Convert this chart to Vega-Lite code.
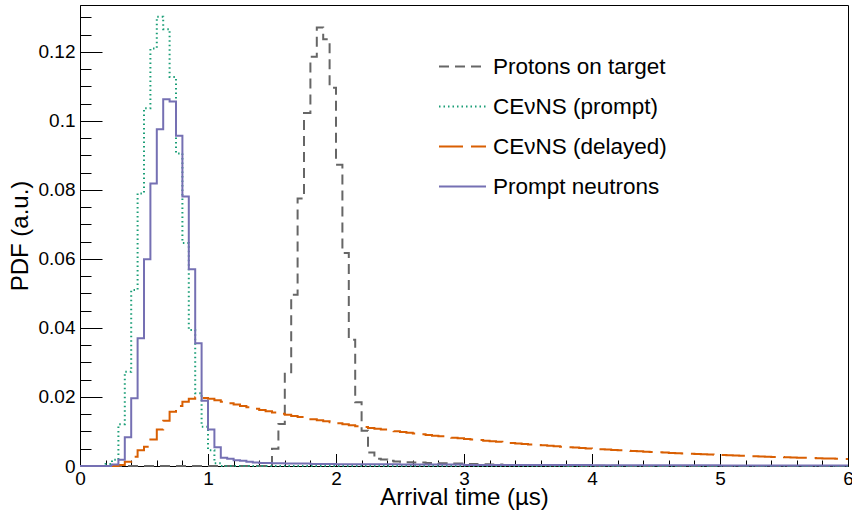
{
"$schema":"https://vega.github.io/schema/vega-lite/v6.json",
"width":768,"height":461,
"autosize":{"type":"none"},
"padding":{"left":80,"top":5,"right":4,"bottom":44},
"background":"white",
"config":{"view":{"stroke":"#000","strokeWidth":1},"font":"Liberation Sans"},
"data":{"values":[
{"s":"Protons on target","t":0,"v":0},
{"s":"Protons on target","t":1.5,"v":0.005},
{"s":"Protons on target","t":1.55,"v":0.0122},
{"s":"Protons on target","t":1.6,"v":0.0272},
{"s":"Protons on target","t":1.65,"v":0.0496},
{"s":"Protons on target","t":1.7,"v":0.0775},
{"s":"Protons on target","t":1.75,"v":0.1023},
{"s":"Protons on target","t":1.8,"v":0.1186},
{"s":"Protons on target","t":1.85,"v":0.1271},
{"s":"Protons on target","t":1.9,"v":0.1237},
{"s":"Protons on target","t":1.95,"v":0.1096},
{"s":"Protons on target","t":2.0,"v":0.0873},
{"s":"Protons on target","t":2.05,"v":0.0617},
{"s":"Protons on target","t":2.1,"v":0.0366},
{"s":"Protons on target","t":2.15,"v":0.0185},
{"s":"Protons on target","t":2.2,"v":0.0102},
{"s":"Protons on target","t":2.25,"v":0.0039},
{"s":"Protons on target","t":2.3,"v":0.0021},
{"s":"Protons on target","t":2.35,"v":0.0019},
{"s":"Protons on target","t":2.4,"v":0.0015},
{"s":"Protons on target","t":2.45,"v":0.0013},
{"s":"Protons on target","t":2.5,"v":0.0012},
{"s":"Protons on target","t":2.55,"v":0.0011},
{"s":"Protons on target","t":2.6,"v":0.001},
{"s":"Protons on target","t":2.7,"v":0.0009},
{"s":"Protons on target","t":2.8,"v":0.0008},
{"s":"Protons on target","t":2.9,"v":0.0007},
{"s":"Protons on target","t":3.0,"v":0.0006},
{"s":"Protons on target","t":3.1,"v":0.0005},
{"s":"Protons on target","t":3.2,"v":0.0004},
{"s":"Protons on target","t":3.3,"v":0.0003},
{"s":"Protons on target","t":3.5,"v":0.0002},
{"s":"Protons on target","t":3.8,"v":0.0001},
{"s":"Protons on target","t":4.2,"v":0},
{"s":"Protons on target","t":6.0,"v":0},
{"s":"CEνNS (prompt)","t":0,"v":0},
{"s":"CEνNS (prompt)","t":0.2,"v":0.0006},
{"s":"CEνNS (prompt)","t":0.25,"v":0.0018},
{"s":"CEνNS (prompt)","t":0.3,"v":0.0121},
{"s":"CEνNS (prompt)","t":0.35,"v":0.0273},
{"s":"CEνNS (prompt)","t":0.4,"v":0.051},
{"s":"CEνNS (prompt)","t":0.45,"v":0.079},
{"s":"CEνNS (prompt)","t":0.5,"v":0.1037},
{"s":"CEνNS (prompt)","t":0.55,"v":0.121},
{"s":"CEνNS (prompt)","t":0.6,"v":0.1302},
{"s":"CEνNS (prompt)","t":0.65,"v":0.1266},
{"s":"CEνNS (prompt)","t":0.7,"v":0.1127},
{"s":"CEνNS (prompt)","t":0.75,"v":0.0906},
{"s":"CEνNS (prompt)","t":0.8,"v":0.0646},
{"s":"CEνNS (prompt)","t":0.85,"v":0.0394},
{"s":"CEνNS (prompt)","t":0.9,"v":0.0211},
{"s":"CEνNS (prompt)","t":0.95,"v":0.0114},
{"s":"CEνNS (prompt)","t":1.0,"v":0.0046},
{"s":"CEνNS (prompt)","t":1.05,"v":0.0008},
{"s":"CEνNS (prompt)","t":1.1,"v":0},
{"s":"CEνNS (prompt)","t":6.0,"v":0},
{"s":"CEνNS (delayed)","t":0,"v":0},
{"s":"CEνNS (delayed)","t":0.3,"v":0.0003},
{"s":"CEνNS (delayed)","t":0.35,"v":0.0012},
{"s":"CEνNS (delayed)","t":0.4,"v":0.0027},
{"s":"CEνNS (delayed)","t":0.45,"v":0.0046},
{"s":"CEνNS (delayed)","t":0.5,"v":0.0056},
{"s":"CEνNS (delayed)","t":0.55,"v":0.0077},
{"s":"CEνNS (delayed)","t":0.6,"v":0.0106},
{"s":"CEνNS (delayed)","t":0.65,"v":0.0131},
{"s":"CEνNS (delayed)","t":0.7,"v":0.0157},
{"s":"CEνNS (delayed)","t":0.75,"v":0.0174},
{"s":"CEνNS (delayed)","t":0.8,"v":0.0186},
{"s":"CEνNS (delayed)","t":0.85,"v":0.0195},
{"s":"CEνNS (delayed)","t":0.9,"v":0.0199},
{"s":"CEνNS (delayed)","t":0.95,"v":0.0197},
{"s":"CEνNS (delayed)","t":1.0,"v":0.01948},
{"s":"CEνNS (delayed)","t":1.05,"v":0.01904},
{"s":"CEνNS (delayed)","t":1.1,"v":0.01861},
{"s":"CEνNS (delayed)","t":1.15,"v":0.0182},
{"s":"CEνNS (delayed)","t":1.2,"v":0.01779},
{"s":"CEνNS (delayed)","t":1.25,"v":0.01739},
{"s":"CEνNS (delayed)","t":1.3,"v":0.017},
{"s":"CEνNS (delayed)","t":1.35,"v":0.01662},
{"s":"CEνNS (delayed)","t":1.4,"v":0.01624},
{"s":"CEνNS (delayed)","t":1.45,"v":0.01588},
{"s":"CEνNS (delayed)","t":1.5,"v":0.01552},
{"s":"CEνNS (delayed)","t":1.55,"v":0.01517},
{"s":"CEνNS (delayed)","t":1.6,"v":0.01483},
{"s":"CEνNS (delayed)","t":1.65,"v":0.0145},
{"s":"CEνNS (delayed)","t":1.7,"v":0.01417},
{"s":"CEνNS (delayed)","t":1.75,"v":0.01385},
{"s":"CEνNS (delayed)","t":1.8,"v":0.01354},
{"s":"CEνNS (delayed)","t":1.85,"v":0.01324},
{"s":"CEνNS (delayed)","t":1.9,"v":0.01294},
{"s":"CEνNS (delayed)","t":1.95,"v":0.01265},
{"s":"CEνNS (delayed)","t":2.0,"v":0.01237},
{"s":"CEνNS (delayed)","t":2.05,"v":0.01209},
{"s":"CEνNS (delayed)","t":2.1,"v":0.01182},
{"s":"CEνNS (delayed)","t":2.15,"v":0.01155},
{"s":"CEνNS (delayed)","t":2.2,"v":0.01129},
{"s":"CEνNS (delayed)","t":2.25,"v":0.01104},
{"s":"CEνNS (delayed)","t":2.3,"v":0.01079},
{"s":"CEνNS (delayed)","t":2.35,"v":0.01055},
{"s":"CEνNS (delayed)","t":2.4,"v":0.01031},
{"s":"CEνNS (delayed)","t":2.45,"v":0.01008},
{"s":"CEνNS (delayed)","t":2.5,"v":0.00985},
{"s":"CEνNS (delayed)","t":2.55,"v":0.00963},
{"s":"CEνNS (delayed)","t":2.6,"v":0.00942},
{"s":"CEνNS (delayed)","t":2.65,"v":0.0092},
{"s":"CEνNS (delayed)","t":2.7,"v":0.009},
{"s":"CEνNS (delayed)","t":2.75,"v":0.0088},
{"s":"CEνNS (delayed)","t":2.8,"v":0.0086},
{"s":"CEνNS (delayed)","t":2.85,"v":0.0084},
{"s":"CEνNS (delayed)","t":2.9,"v":0.00821},
{"s":"CEνNS (delayed)","t":2.95,"v":0.00803},
{"s":"CEνNS (delayed)","t":3.0,"v":0.00785},
{"s":"CEνNS (delayed)","t":3.05,"v":0.00767},
{"s":"CEνNS (delayed)","t":3.1,"v":0.0075},
{"s":"CEνNS (delayed)","t":3.15,"v":0.00733},
{"s":"CEνNS (delayed)","t":3.2,"v":0.00717},
{"s":"CEνNS (delayed)","t":3.25,"v":0.00701},
{"s":"CEνNS (delayed)","t":3.3,"v":0.00685},
{"s":"CEνNS (delayed)","t":3.35,"v":0.0067},
{"s":"CEνNS (delayed)","t":3.4,"v":0.00655},
{"s":"CEνNS (delayed)","t":3.45,"v":0.0064},
{"s":"CEνNS (delayed)","t":3.5,"v":0.00626},
{"s":"CEνNS (delayed)","t":3.55,"v":0.00612},
{"s":"CEνNS (delayed)","t":3.6,"v":0.00598},
{"s":"CEνNS (delayed)","t":3.65,"v":0.00584},
{"s":"CEνNS (delayed)","t":3.7,"v":0.00571},
{"s":"CEνNS (delayed)","t":3.75,"v":0.00558},
{"s":"CEνNS (delayed)","t":3.8,"v":0.00546},
{"s":"CEνNS (delayed)","t":3.85,"v":0.00534},
{"s":"CEνNS (delayed)","t":3.9,"v":0.00522},
{"s":"CEνNS (delayed)","t":3.95,"v":0.0051},
{"s":"CEνNS (delayed)","t":4.0,"v":0.00499},
{"s":"CEνNS (delayed)","t":4.05,"v":0.00487},
{"s":"CEνNS (delayed)","t":4.1,"v":0.00476},
{"s":"CEνNS (delayed)","t":4.15,"v":0.00466},
{"s":"CEνNS (delayed)","t":4.2,"v":0.00455},
{"s":"CEνNS (delayed)","t":4.25,"v":0.00445},
{"s":"CEνNS (delayed)","t":4.3,"v":0.00435},
{"s":"CEνNS (delayed)","t":4.35,"v":0.00425},
{"s":"CEνNS (delayed)","t":4.4,"v":0.00416},
{"s":"CEνNS (delayed)","t":4.45,"v":0.00406},
{"s":"CEνNS (delayed)","t":4.5,"v":0.00397},
{"s":"CEνNS (delayed)","t":4.55,"v":0.00388},
{"s":"CEνNS (delayed)","t":4.6,"v":0.0038},
{"s":"CEνNS (delayed)","t":4.65,"v":0.00371},
{"s":"CEνNS (delayed)","t":4.7,"v":0.00363},
{"s":"CEνNS (delayed)","t":4.75,"v":0.00355},
{"s":"CEνNS (delayed)","t":4.8,"v":0.00347},
{"s":"CEνNS (delayed)","t":4.85,"v":0.00339},
{"s":"CEνNS (delayed)","t":4.9,"v":0.00331},
{"s":"CEνNS (delayed)","t":4.95,"v":0.00324},
{"s":"CEνNS (delayed)","t":5.0,"v":0.00317},
{"s":"CEνNS (delayed)","t":5.05,"v":0.0031},
{"s":"CEνNS (delayed)","t":5.1,"v":0.00303},
{"s":"CEνNS (delayed)","t":5.15,"v":0.00296},
{"s":"CEνNS (delayed)","t":5.2,"v":0.00289},
{"s":"CEνNS (delayed)","t":5.25,"v":0.00283},
{"s":"CEνNS (delayed)","t":5.3,"v":0.00276},
{"s":"CEνNS (delayed)","t":5.35,"v":0.0027},
{"s":"CEνNS (delayed)","t":5.4,"v":0.00264},
{"s":"CEνNS (delayed)","t":5.45,"v":0.00258},
{"s":"CEνNS (delayed)","t":5.5,"v":0.00252},
{"s":"CEνNS (delayed)","t":5.55,"v":0.00247},
{"s":"CEνNS (delayed)","t":5.6,"v":0.00241},
{"s":"CEνNS (delayed)","t":5.65,"v":0.00236},
{"s":"CEνNS (delayed)","t":5.7,"v":0.00231},
{"s":"CEνNS (delayed)","t":5.75,"v":0.00225},
{"s":"CEνNS (delayed)","t":5.8,"v":0.0022},
{"s":"CEνNS (delayed)","t":5.85,"v":0.00215},
{"s":"CEνNS (delayed)","t":5.9,"v":0.00211},
{"s":"CEνNS (delayed)","t":5.95,"v":0.00206},
{"s":"CEνNS (delayed)","t":6.0,"v":0.00206},
{"s":"Prompt neutrons","t":0,"v":0},
{"s":"Prompt neutrons","t":0.25,"v":0.0004},
{"s":"Prompt neutrons","t":0.3,"v":0.0018},
{"s":"Prompt neutrons","t":0.35,"v":0.0083},
{"s":"Prompt neutrons","t":0.4,"v":0.0196},
{"s":"Prompt neutrons","t":0.45,"v":0.037},
{"s":"Prompt neutrons","t":0.5,"v":0.0599},
{"s":"Prompt neutrons","t":0.55,"v":0.0819},
{"s":"Prompt neutrons","t":0.6,"v":0.0976},
{"s":"Prompt neutrons","t":0.65,"v":0.1063},
{"s":"Prompt neutrons","t":0.7,"v":0.1056},
{"s":"Prompt neutrons","t":0.75,"v":0.0957},
{"s":"Prompt neutrons","t":0.8,"v":0.0781},
{"s":"Prompt neutrons","t":0.85,"v":0.057},
{"s":"Prompt neutrons","t":0.9,"v":0.0356},
{"s":"Prompt neutrons","t":0.95,"v":0.0189},
{"s":"Prompt neutrons","t":1.0,"v":0.0106},
{"s":"Prompt neutrons","t":1.05,"v":0.0054},
{"s":"Prompt neutrons","t":1.1,"v":0.0024},
{"s":"Prompt neutrons","t":1.15,"v":0.0021},
{"s":"Prompt neutrons","t":1.2,"v":0.0017},
{"s":"Prompt neutrons","t":1.25,"v":0.0015},
{"s":"Prompt neutrons","t":1.3,"v":0.0012},
{"s":"Prompt neutrons","t":1.35,"v":0.001},
{"s":"Prompt neutrons","t":1.4,"v":0.0009},
{"s":"Prompt neutrons","t":1.5,"v":0.0008},
{"s":"Prompt neutrons","t":1.6,"v":0.0007},
{"s":"Prompt neutrons","t":1.8,"v":0.0006},
{"s":"Prompt neutrons","t":2.0,"v":0.0005},
{"s":"Prompt neutrons","t":2.5,"v":0.0004},
{"s":"Prompt neutrons","t":3.0,"v":0.0003},
{"s":"Prompt neutrons","t":4.0,"v":0.0002},
{"s":"Prompt neutrons","t":5.0,"v":0.00015},
{"s":"Prompt neutrons","t":6.0,"v":0.00015}
]},
"layer":[
{"mark":{"type":"line","interpolate":"step-after","strokeCap":"butt","strokeJoin":"miter"},
 "encoding":{
  "x":{"field":"t","type":"quantitative","scale":{"domain":[0,6],"nice":false,"zero":false},
       "axis":{"orient":"bottom","values":[0,1,2,3,4,5,6],"tickSize":-12.5,"tickColor":"#000","domainColor":"#000","labelPadding":16,"labelFontSize":19,"labelColor":"#000","labelFont":"Liberation Sans","labelFlush":false,"labelOverlap":false,"grid":false,"title":"Arrival time (µs)","titleFontSize":24,"titleFontWeight":"normal","titleColor":"#000","titleFont":"Liberation Sans","titlePadding":-3}},
  "y":{"field":"v","type":"quantitative","scale":{"domain":[0,0.1336],"nice":false,"zero":true},
       "axis":{"orient":"left","values":[0,0.02,0.04,0.06,0.08,0.1,0.12],"format":"~g","tickSize":-22,"tickColor":"#000","domainColor":"#000","labelPadding":27,"labelFontSize":19,"labelColor":"#000","labelFont":"Liberation Sans","labelFlush":false,"labelOverlap":false,"grid":false,"title":"PDF (a.u.)","titleFontSize":24,"titleFontWeight":"normal","titleColor":"#000","titleFont":"Liberation Sans","titlePadding":6}},
  "color":{"field":"s","type":"nominal","scale":{"domain":["Protons on target","CEνNS (prompt)","CEνNS (delayed)","Prompt neutrons"],"range":["#666666","#1b9e77","#d95f02","#7570b3"]},
       "legend":{"orient":"none","legendX":358,"legendY":37,"title":null,"symbolType":"stroke","symbolSize":2209,"labelFontSize":22.5,"labelFont":"Liberation Sans","labelColor":"#000","labelLimit":0,"rowPadding":4,"labelOffset":6,"padding":0}},
  "strokeDash":{"field":"s","type":"nominal","scale":{"domain":["Protons on target","CEνNS (prompt)","CEνNS (delayed)","Prompt neutrons"],"range":[[10,6],[1.5,3],[24,8],[1,0]]}},
  "strokeWidth":{"field":"s","type":"nominal","scale":{"domain":["Protons on target","CEνNS (prompt)","CEνNS (delayed)","Prompt neutrons"],"range":[2,2,2,2.5]}}
 }},
{"mark":{"type":"point","opacity":0},
 "encoding":{
  "x":{"field":"t","type":"quantitative","scale":{"domain":[0,6],"nice":false,"zero":false},
       "axis":{"orient":"bottom","values":[0.2,0.4,0.6,0.8,1.2,1.4,1.6,1.8,2.2,2.4,2.6,2.8,3.2,3.4,3.6,3.8,4.2,4.4,4.6,4.8,5.2,5.4,5.6,5.8],"tickSize":-6,"tickColor":"#000","domain":false,"labels":false,"grid":false,"title":null}},
  "y":{"field":"v","type":"quantitative","scale":{"domain":[0,0.1336],"nice":false,"zero":true},
       "axis":{"orient":"left","values":[0.005,0.01,0.015,0.025,0.03,0.035,0.045,0.05,0.055,0.065,0.07,0.075,0.085,0.09,0.095,0.105,0.11,0.115,0.125,0.13],"tickSize":-11,"tickColor":"#000","domain":false,"labels":false,"grid":false,"title":null}}
 }}
],
"resolve":{"axis":{"x":"independent","y":"independent"}}
}
